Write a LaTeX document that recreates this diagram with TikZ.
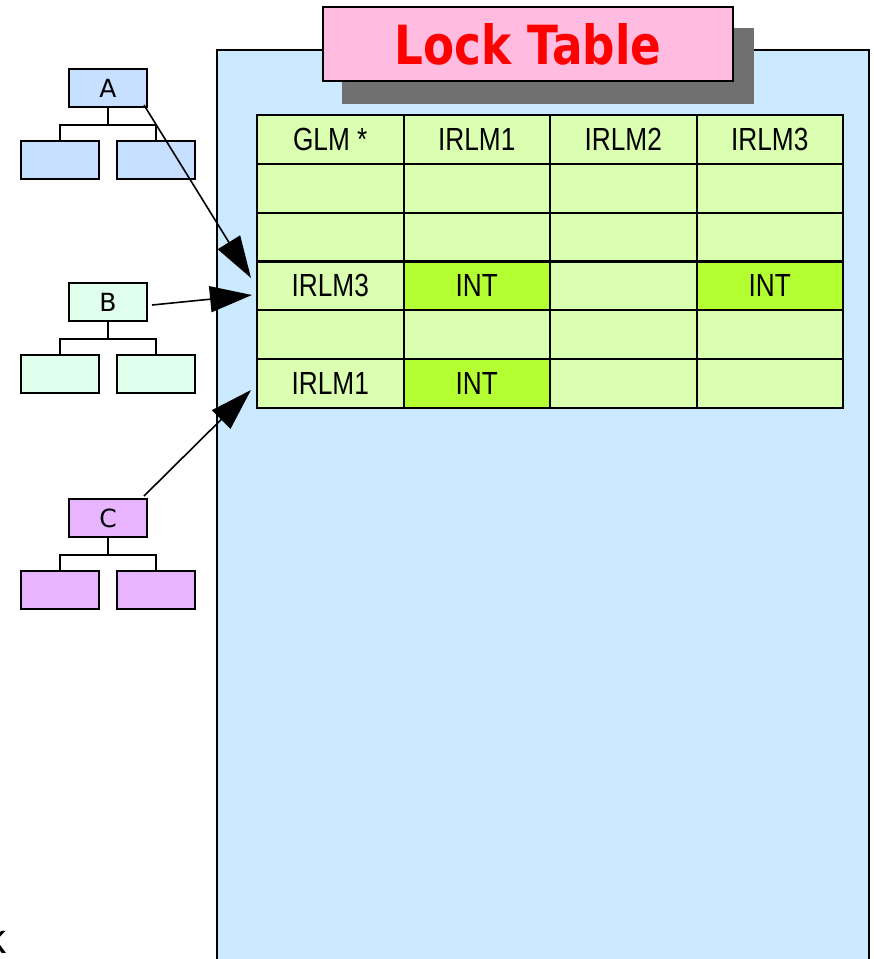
\documentclass[tikz,border=0pt]{standalone}
\usepackage{fontspec}
\setmainfont{Liberation Sans}
\newfontfamily\titlefont{DejaVu Sans}
\newfontfamily\treefont{DejaVu Sans}
\usetikzlibrary{positioning, arrows.meta}

\definecolor{paneblue}{HTML}{CCEAFF}
\definecolor{titlepink}{HTML}{FFBBE0}
\definecolor{shadowgray}{HTML}{707070}
\definecolor{cellgreen}{HTML}{DAFFB0}
\definecolor{intgreen}{HTML}{B4FF32}
\definecolor{treeblue}{HTML}{C8E0FF}
\definecolor{treemint}{HTML}{E0FFEC}
\definecolor{treeviolet}{HTML}{E8B4FF}

\newcommand{\cellfont}{\fontsize{32}{36}\selectfont}
\newcommand{\cond}[1]{\raisebox{-2pt}{\scalebox{0.82}[1]{\cellfont #1}}}

\begin{document}
\begin{tikzpicture}[x=1pt, y=-1pt, line width=2pt,
  tbox/.style={draw, minimum width=78pt, minimum height=38pt, inner sep=0pt,
    font=\treefont\fontsize{25}{28}\selectfont},
  cell/.style={draw, fill=cellgreen, minimum width=146.5pt, minimum height=48.8pt, inner sep=0pt},
  hit/.style={cell, fill=intgreen},
  link/.style={line width=1.6pt, -{Triangle[length=42pt, width=26pt]}}]
  \useasboundingbox (0,0) rectangle (874,959);

  % pane behind the table
  \draw[fill=paneblue] (217,50) rectangle (869,980);

  % title with its shadow
  \node[draw, fill=titlepink, minimum width=410pt, minimum height=74pt, inner sep=0pt] (title) at (528,44) {};
  \fill[shadowgray] ([shift={(20,22)}]title.south west) rectangle ([shift={(20,22)}]title.north east);
  \node[draw, fill=titlepink, minimum width=410pt, minimum height=74pt, inner sep=0pt, text=red] at (title)
    {\raisebox{-8pt}{\resizebox{267pt}{41pt}{\titlefont\bfseries Lock Table}}};

  % lock table
  \foreach \r in {1,...,6}
    \foreach \c in {1,...,4}
      \node[cell] (c\r\c) at ({257+146.5*(\c-0.5)}, {115+48.83*(\r-0.5)}) {};

  \node at (c11) {\cond{GLM *}};
  \node at (c12) {\cond{IRLM1}};
  \node at (c13) {\cond{IRLM2}};
  \node at (c14) {\cond{IRLM3}};
  \node at (c41) {\cond{IRLM3}};
  \node[hit] at (c42) {\cond{INT}};
  \node[hit] at (c44) {\cond{INT}};
  \node at (c61) {\cond{IRLM1}};
  \node[hit] at (c62) {\cond{INT}};

  % trees
  \node[tbox, fill=treeblue] (A) at (108,88) {\raisebox{-3pt}{A}};
  \node[tbox, fill=treeblue, below=32pt of A, xshift=-48pt] (A1) {};
  \node[tbox, fill=treeblue, below=32pt of A, xshift=48pt] (A2) {};

  \node[tbox, fill=treemint] (B) at (108,302) {\raisebox{-3pt}{B}};
  \node[tbox, fill=treemint, below=32pt of B, xshift=-48pt] (B1) {};
  \node[tbox, fill=treemint, below=32pt of B, xshift=48pt] (B2) {};

  \node[tbox, fill=treeviolet] (C) at (108,518) {\raisebox{-3pt}{C}};
  \node[tbox, fill=treeviolet, below=32pt of C, xshift=-48pt] (C1) {};
  \node[tbox, fill=treeviolet, below=32pt of C, xshift=48pt] (C2) {};

  \foreach \t in {A,B,C} {
    \draw (\t.south) -- ++(0,17) coordinate (\t bar);
    \draw (\t1.north) |- (\t bar) -| (\t2.north);
  }

  % arrows into the table
  \coordinate (tA) at (251,278);
  \coordinate (tB) at (252,295);
  \coordinate (tC) at (251,390);
  \draw[link] ([shift={(-4,-3)}]A.south east) -- (tA);
  \draw[link] ([shift={(4,3)}]B.east) -- (tB);
  \draw[link] ([shift={(-4,-2)}]C.north east) -- (tC);

  \node[anchor=base east, inner sep=0pt, font=\fontsize{42}{48}\selectfont] (cut) at (7,953) {k};
\end{tikzpicture}
\end{document}
